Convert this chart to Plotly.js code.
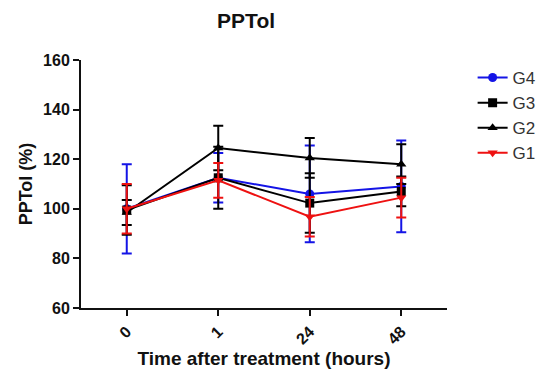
<!DOCTYPE html>
<html><head><meta charset="utf-8">
<script src="https://cdn.plot.ly/plotly-3.0.1.min.js"></script>
<style>html,body{margin:0;padding:0;background:#fff}#c{width:553px;height:374px}</style>
</head><body><div id="c"></div>
<script>
const categories = ["0", "1", "24", "48"];
const seriesNames = ["G4", "G3", "G2", "G1"];
const g4 = [100, 112.5, 106, 109];
const g4err = [18, 10, 19.5, 18.5];
const g3 = [99.5, 112.5, 102.3, 107];
const g3err = [10, 12.5, 12, 6];
const g2 = [98.5, 124.5, 120.5, 118];
const g2err = [5, 9, 8, 8];
const g1 = [100, 111.5, 96.8, 104.5];
const g1err = [10, 7, 8, 8];

const colors = ["#1414e6", "#000000", "#000000", "#ee1111"];
const symbols = ["circle", "square", "triangle-up", "triangle-down"];
const vals = [g4, g3, g2, g1];
const errs = [g4err, g3err, g2err, g1err];

const traces = seriesNames.map((n, i) => ({
  type: "scatter", mode: "lines+markers", name: n,
  x: [0, 1, 2, 3], y: vals[i],
  line: {color: colors[i], width: 2},
  marker: {color: colors[i], symbol: symbols[i], size: 9},
  error_y: {type: "data", array: errs[i], visible: true, color: colors[i], thickness: 2, width: 5}
}));

const layout = {
  width: 553, height: 374,
  margin: {l: 81, r: 100, t: 60, b: 66},
  paper_bgcolor: "#fff", plot_bgcolor: "#fff",
  font: {family: "Liberation Sans, Arial, sans-serif", color: "#111"},
  title: {text: "<b>PPTol</b>", x: 0.445, xanchor: "center", y: 0.944, yanchor: "middle",
          font: {size: 21, color: "#111"}},
  xaxis: {
    range: [-0.5, 3.5], tickmode: "array", tickvals: [0, 1, 2, 3], ticktext: categories.map(c => "<b>" + c + "</b>"),
    tickangle: -45, ticks: "outside", ticklen: 6, tickwidth: 2, tickcolor: "#111",
    showline: true, linewidth: 2, linecolor: "#111", showgrid: false, zeroline: false,
    tickfont: {size: 16, color: "#111"},
    title: {text: "<b>Time after treatment (hours)</b>", font: {size: 19, color: "#111"}, standoff: 2}
  },
  yaxis: {
    range: [60, 160], tickvals: [60, 80, 100, 120, 140, 160],
    ticktext: ["<b>60</b>", "<b>80</b>", "<b>100</b>", "<b>120</b>", "<b>140</b>", "<b>160</b>"],
    ticks: "outside", ticklen: 6, tickwidth: 2, tickcolor: "#111",
    showline: true, linewidth: 2, linecolor: "#111", showgrid: false, zeroline: false,
    tickfont: {size: 16, color: "#111"},
    title: {text: "<b>PPTol (%)</b>", font: {size: 18, color: "#111"}, standoff: 6}
  },
  legend: {x: 1.07, xanchor: "left", y: 1.0, yanchor: "top", traceorder: "normal",
           font: {size: 17, color: "#333"}, itemwidth: 30,
           bgcolor: "rgba(0,0,0,0)"},
  showlegend: true
};
Plotly.newPlot("c", traces, layout, {staticPlot: true, displayModeBar: false});
</script>
</body></html>
